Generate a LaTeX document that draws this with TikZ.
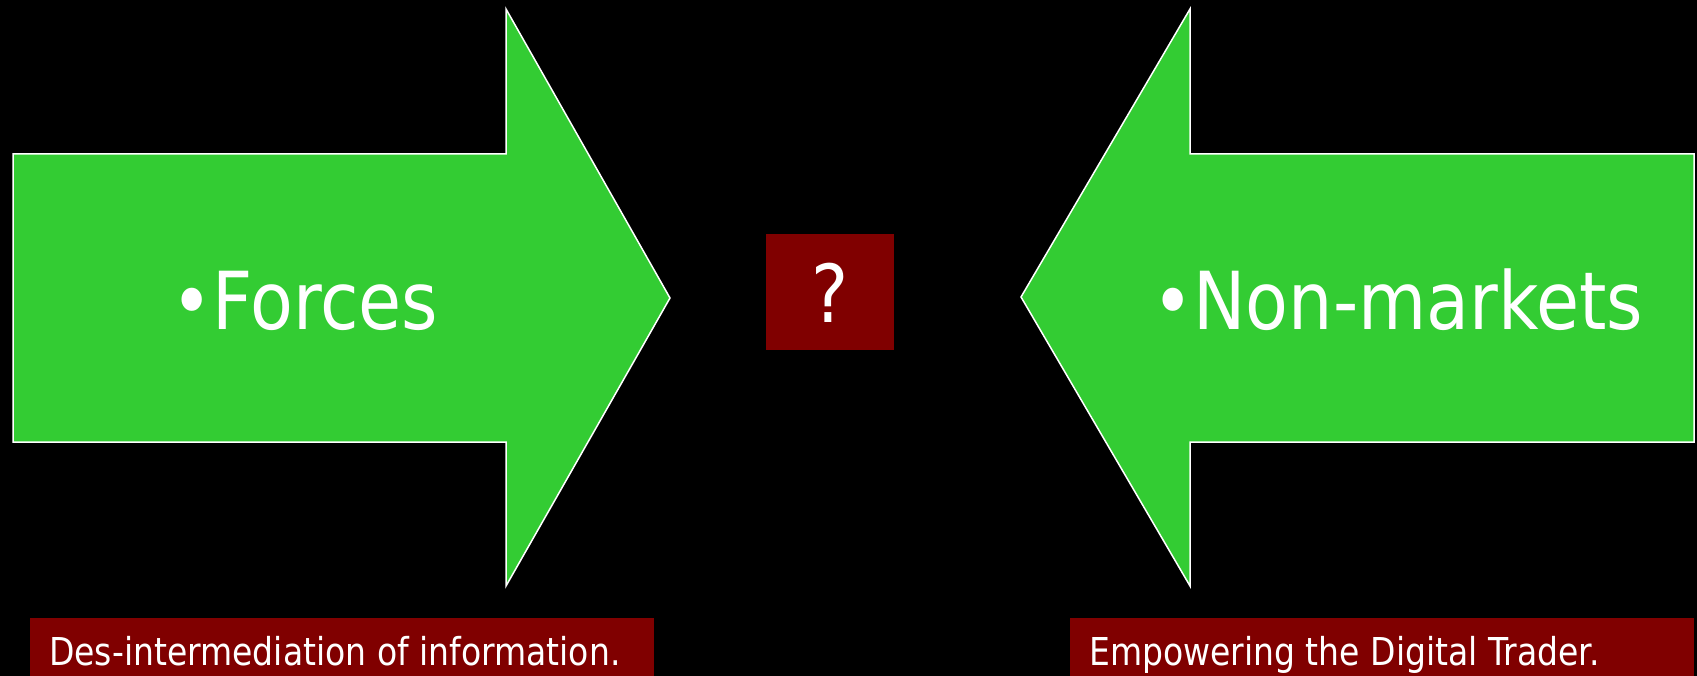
\documentclass[tikz,border=0pt]{standalone}
\usepackage{fontspec}
\setmainfont{DejaVu Sans}[FakeStretch=0.86]
\newfontfamily\bigfont{DejaVu Sans}[FakeStretch=0.875]
\definecolor{argreen}{RGB}{51,204,51}
\definecolor{boxred}{RGB}{128,0,0}
\begin{document}
\begin{tikzpicture}[x=1pt,y=-1pt,
  arrowshape/.style={fill=argreen,draw=white,line width=1.5pt,line join=miter},
  bigtext/.style={text=white,font=\bigfont\fontsize{80}{96}\selectfont,inner sep=0pt},
  smalltext/.style={text=white,font=\fontsize{38.4}{46}\selectfont,inner sep=0pt},
  redbox/.style={fill=boxred}]
\useasboundingbox (0,0) rectangle (1697,676);
\fill[black] (0,0) rectangle (1697,676);
% arrows
\draw[arrowshape] (13,154) -- (506,154) -- (506,9) -- (670,298) -- (506,586) -- (506,442) -- (13,442) -- cycle;
\draw[arrowshape] (1694,154) -- (1190,154) -- (1190,9) -- (1021,297) -- (1190,586) -- (1190,442) -- (1694,442) -- cycle;
% red boxes
\fill[redbox] (766,234) rectangle (894,350);
\fill[redbox] (30,618) rectangle (654,676);
\fill[redbox] (1070,618) rectangle (1694,676);
% texts
\node[bigtext,anchor=base west] (forces) at (171,330) {•Forces};
\node[bigtext,anchor=base west] (nonmarkets) at (1152,330) {•Non-markets};
\node[bigtext,anchor=base] (question) at (830,323) {?};
\node[smalltext,anchor=base west] (desint) at (49,665) {Des-intermediation of information.};
\node[smalltext,anchor=base west] (empower) at (1089,665) {Empowering the Digital Trader.};
\end{tikzpicture}
\end{document}
